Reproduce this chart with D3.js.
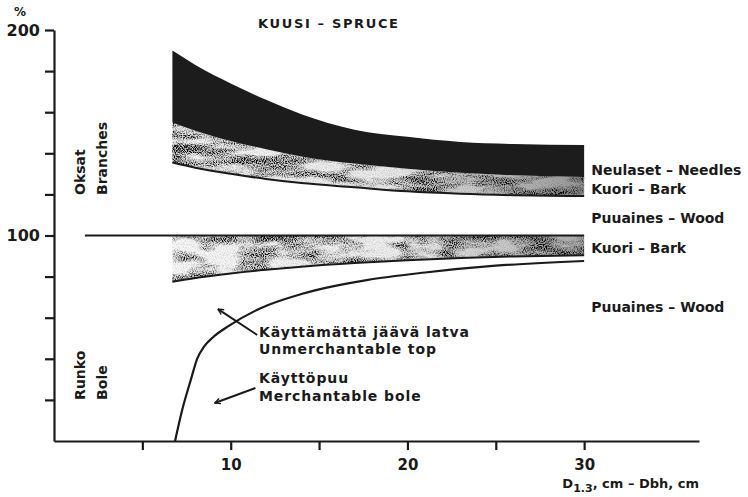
<!DOCTYPE html>
<html>
<head>
<meta charset="utf-8">
<script src="https://cdn.jsdelivr.net/npm/d3@7"></script>
<style>
  body { margin: 0; background: #fff; }
  text { font-family: "DejaVu Sans", sans-serif; font-weight: bold; fill: #1a1a1a; }
</style>
</head>
<body>
<script>
(function(){

//diameters at breast height where the bands are read, cm
var dbh = [6.7, 8, 10, 12, 14, 17, 20, 23, 26, 30];
//cumulative percentages (bole wood = 100)
var needlesTop = [190, 183, 174, 166, 159, 151.5, 148, 145.5, 144.5, 144];
var branchBarkTop = [155, 151, 146, 142, 138.5, 135, 132.5, 130.5, 129.3, 128.5];
var branchWoodTop = [135.5, 133, 130, 127.5, 125.5, 123.5, 121.5, 120.3, 119.6, 119.2];
var boleBarkTop = [100, 100, 100, 100, 100, 100, 100, 100, 100, 100];
var boleWoodTop = [77.5, 79.3, 81.5, 83.3, 84.8, 86.6, 88, 89.1, 89.8, 90.4];

//merchantable bole curve
var boleDbh = [6.85, 7.25, 7.75, 8.1, 8.5, 9.0, 9.8, 11.66, 14, 17.7, 21, 25, 30];
var merchantable = [0, 15, 30, 40, 46, 50.5, 55.5, 64.5, 71.5, 78.3, 82, 85.3, 87.6];

//axis ticks
var xTicks = [5, 10, 15, 20, 25, 30];
var xLabels = [10, 20, 30];
var yTicks = [20, 40, 60, 80, 100, 120, 140, 160, 180, 200];
var yLabels = [100, 200];

//component labels at the right end
var rightLabels = [
  {text: "Neulaset – Needles", v: 131.9},
  {text: "Kuori – Bark", v: 122.6},
  {text: "Puuaines – Wood", v: 108.5},
  {text: "Kuori – Bark", v: 93.9},
  {text: "Puuaines – Wood", v: 65.2}
];

window.onload = draw();

function draw(){

  var width = 748,
      height = 497;

  var svg = d3.select("body")
      .append("svg")
      .attr("width", width)
      .attr("height", height);

  var x = d3.scaleLinear().domain([0, 36.5]).range([54, 699]);
  var y = d3.scaleLinear().domain([0, 200]).range([441, 30]);

  var defs = svg.append("defs");
  makeStipple(defs, "stippleUp", 7, "0.02 0.09");
  makeStipple(defs, "stippleLow", 19, "0.025 0.07");

  var grad = defs.append("linearGradient")
      .attr("id", "darken")
      .attr("x1", "0").attr("x2", "1").attr("y1", "0").attr("y2", "0");
  grad.append("stop").attr("offset", "0").attr("stop-color", "#000").attr("stop-opacity", 0.03);
  grad.append("stop").attr("offset", "0.55").attr("stop-color", "#000").attr("stop-opacity", 0.08);
  grad.append("stop").attr("offset", "1").attr("stop-color", "#000").attr("stop-opacity", 0.4);

  defs.append("marker")
      .attr("id", "arrow")
      .attr("viewBox", "0 0 10 10")
      .attr("refX", 9).attr("refY", 5)
      .attr("markerWidth", 7).attr("markerHeight", 7)
      .attr("markerUnits", "userSpaceOnUse")
      .attr("orient", "auto")
    .append("path")
      .attr("d", "M1,1 L9,5 L1,9")
      .attr("fill", "none")
      .attr("stroke", "#1a1a1a")
      .attr("stroke-width", 2);

  var rows = dbh.map(function(d, i){
    return {d: d, nt: needlesTop[i], bt: branchBarkTop[i], bw: branchWoodTop[i],
            lb: boleBarkTop[i], lw: boleWoodTop[i]};
  });

  function band(lo, hi){
    return d3.area()
        .x(function(r){ return x(r.d); })
        .y0(function(r){ return y(r[lo]); })
        .y1(function(r){ return y(r[hi]); })
        .curve(d3.curveMonotoneX);
  }
  function edge(key){
    return d3.line()
        .x(function(r){ return x(r.d); })
        .y(function(r){ return y(r[key]); })
        .curve(d3.curveMonotoneX);
  }

  //branch bark (stippled)
  svg.append("path").attr("d", band("bw", "bt")(rows)).attr("fill", "url(#darken)");
  svg.append("path").attr("d", band("bw", "bt")(rows)).attr("fill", "#000")
      .attr("filter", "url(#stippleUp)");
  //needles (solid black)
  svg.append("path").attr("d", band("bt", "nt")(rows)).attr("fill", "#1c1c1c");
  svg.append("path").attr("d", edge("bw")(rows)).attr("fill", "none")
      .attr("stroke", "#1a1a1a").attr("stroke-width", 2);

  //bole bark (stippled)
  svg.append("path").attr("d", band("lw", "lb")(rows)).attr("fill", "url(#darken)")
      .attr("opacity", 0.8);
  svg.append("path").attr("d", band("lw", "lb")(rows)).attr("fill", "#000")
      .attr("filter", "url(#stippleLow)");
  svg.append("path").attr("d", edge("lw")(rows)).attr("fill", "none")
      .attr("stroke", "#1a1a1a").attr("stroke-width", 2);

  //100 % line
  svg.append("line")
      .attr("x1", x(1.75)).attr("x2", x(30))
      .attr("y1", y(100)).attr("y2", y(100))
      .attr("stroke", "#1a1a1a").attr("stroke-width", 2);

  //merchantable bole curve
  var bole = d3.line()
      .x(function(d){ return x(d); })
      .y(function(d, i){ return y(merchantable[i]); })
      .curve(d3.curveMonotoneX);
  svg.append("path").attr("d", bole(boleDbh)).attr("fill", "none")
      .attr("stroke", "#1a1a1a").attr("stroke-width", 2.2);

  //axes
  var xAxis = d3.axisBottom(x)
      .tickValues(xTicks)
      .tickSize(9).tickSizeOuter(0).tickPadding(9)
      .tickFormat(function(d){ return xLabels.indexOf(d) >= 0 ? d : ""; });
  var gx = svg.append("g").attr("transform", "translate(0," + y(0) + ")").call(xAxis);

  var yAxis = d3.axisLeft(y)
      .tickValues(yTicks)
      .tickSize(9).tickSizeOuter(0).tickPadding(5)
      .tickFormat(function(d){ return yLabels.indexOf(d) >= 0 ? d : ""; });
  var gy = svg.append("g").attr("transform", "translate(" + x(0) + ",0)").call(yAxis);

  [gx, gy].forEach(function(g){
    g.selectAll("path, line").attr("stroke", "#1a1a1a").attr("stroke-width", 2.2);
    g.selectAll("text").attr("font-family", null).attr("fill", "#1a1a1a");
  });
  gx.selectAll("text").style("font-size", "15px");
  gy.selectAll("text").style("font-size", "16px");

  svg.append("text").attr("x", 20).attr("y", 16).attr("text-anchor", "middle")
      .style("font-size", "12px").text("%");

  //title
  svg.append("text").attr("x", 258).attr("y", 28)
      .style("font-size", "13px").attr("textLength", 140).attr("lengthAdjust", "spacing")
      .text("KUUSI – SPRUCE");

  //x axis title
  var xt = svg.append("text").attr("x", 699).attr("y", 488).attr("text-anchor", "end")
      .style("font-size", "13px");
  xt.append("tspan").text("D");
  xt.append("tspan").attr("dy", 4).style("font-size", "11px").text("1.3");
  xt.append("tspan").attr("dy", -4).text(", cm – Dbh, cm");

  //component labels
  svg.selectAll(".compLabel")
      .data(rightLabels)
      .enter()
      .append("text")
      .attr("class", "compLabel")
      .attr("x", x(30.4))
      .attr("y", function(d){ return y(d.v); })
      .attr("dy", "0.36em")
      .style("font-size", "14px")
      .text(function(d){ return d.text; });

  //rotated labels at the left
  var sideLabels = [
    {text: "Oksat", d: 1.47, v: 119.7},
    {text: "Branches", d: 2.7, v: 119.7},
    {text: "Runko", d: 1.47, v: 20},
    {text: "Bole", d: 2.7, v: 20}
  ];
  svg.selectAll(".sideLabel")
      .data(sideLabels)
      .enter()
      .append("text")
      .attr("class", "sideLabel")
      .attr("transform", function(d){
        return "translate(" + (x(d.d) + 5) + "," + y(d.v) + ") rotate(-90)";
      })
      .style("font-size", "14px")
      .text(function(d){ return d.text; });

  //annotations
  var notes = [
    {lines: ["Käyttämättä jäävä latva", "Unmerchantable top"], d: 11.6, v: [53, 44.8],
     arrow: [[11.5, 51.6], [9.28, 64.2]]},
    {lines: ["Käyttöpuu", "Merchantable bole"], d: 11.6, v: [30.7, 21.9],
     arrow: [[11.4, 25.8], [9.1, 18.5]]}
  ];
  notes.forEach(function(n){
    n.lines.forEach(function(t, i){
      svg.append("text")
          .attr("x", x(n.d)).attr("y", y(n.v[i])).attr("dy", "0.36em")
          .style("font-size", "14px").style("letter-spacing", "0.9px")
          .text(t);
    });
    svg.append("line")
        .attr("x1", x(n.arrow[0][0])).attr("y1", y(n.arrow[0][1]))
        .attr("x2", x(n.arrow[1][0])).attr("y2", y(n.arrow[1][1]))
        .attr("stroke", "#1a1a1a").attr("stroke-width", 2)
        .attr("marker-end", "url(#arrow)");
  });
};

//mottled print texture for the bark bands
function makeStipple(defs, id, seed, freq){
  var f = defs.append("filter")
      .attr("id", id)
      .attr("x", 0).attr("y", 0).attr("width", 1).attr("height", 1)
      .attr("color-interpolation-filters", "sRGB");
  f.append("feTurbulence").attr("type", "fractalNoise").attr("baseFrequency", freq)
      .attr("numOctaves", 4).attr("seed", seed).attr("result", "coarse");
  f.append("feColorMatrix").attr("in", "coarse").attr("type", "matrix")
      .attr("values", "0 0 0 0 0  0 0 0 0 0  0 0 0 0 0  2.8 0 0 0 -1.1").attr("result", "ca");
  f.append("feTurbulence").attr("type", "fractalNoise").attr("baseFrequency", "0.9")
      .attr("numOctaves", 1).attr("seed", seed + 3).attr("result", "fine");
  f.append("feColorMatrix").attr("in", "fine").attr("type", "matrix")
      .attr("values", "0 0 0 0 0  0 0 0 0 0  0 0 0 0 0  3.2 0 0 0 -1.3").attr("result", "fa");
  f.append("feComposite").attr("in", "ca").attr("in2", "fa").attr("operator", "arithmetic")
      .attr("k1", 1.1).attr("k2", 0.25).attr("k3", 0.12).attr("k4", 0).attr("result", "mix");
  f.append("feComposite").attr("in", "mix").attr("in2", "SourceGraphic").attr("operator", "in");
}

})();
</script>
</body>
</html>
